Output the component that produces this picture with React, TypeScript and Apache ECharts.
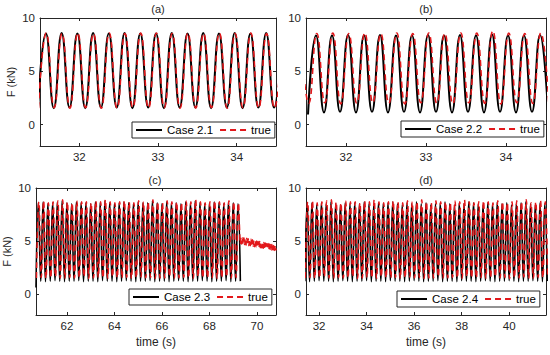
import React, { useEffect, useRef } from "react";
import * as echarts from "echarts";

// ---------- texts / ticks ----------
const panelTitles = ["(a)", "(b)", "(c)", "(d)"];
const caseNames = ["Case 2.1", "Case 2.2", "Case 2.3", "Case 2.4"];
const trueName = "true";
const yAxisName = "F (kN)";
const xAxisName = "time (s)";
const yTickValues = [0, 5, 10];
const yRange = [-2, 10];
const xTicksA = [32, 33, 34];
const xTicksB = [32, 33, 34];
const xTicksC = [62, 64, 66, 68, 70];
const xTicksD = [32, 34, 36, 38, 40];
const xRangeA = [31.5, 34.5];
const xRangeB = [31.5, 34.5];
const xRangeC = [60.7, 70.8];
const xRangeD = [31.45, 41.55];

// ---------- data: alternating extremes (troughs / peaks) of the force signals, kN ----------
const halfPeriod = 0.1; // s between a trough and the next peak

// (a)
const aCaseStart = 31.475;
const aCaseLows = [1.6, 1.55, 1.6, 1.55, 1.6, 1.6, 1.55, 1.6, 1.55, 1.6, 1.6, 1.55, 1.6, 1.55, 1.6, 1.6];
const aCaseHighs = [8.55, 8.6, 8.55, 8.6, 8.55, 8.6, 8.55, 8.55, 8.6, 8.55, 8.6, 8.55, 8.6, 8.55, 8.6, 8.55];
const aTrueStart = 31.48;
const aTrueLows = [1.55, 1.6, 1.55, 1.6, 1.55, 1.55, 1.6, 1.55, 1.6, 1.55, 1.55, 1.6, 1.55, 1.6, 1.55, 1.55];
const aTrueHighs = [8.6, 8.55, 8.6, 8.55, 8.6, 8.55, 8.6, 8.6, 8.55, 8.6, 8.55, 8.6, 8.55, 8.6, 8.55, 8.6];

// (b)
const bCaseStart = 31.525;
const bCaseLows = [0.95, 1.15, 1.2, 1.15, 1.2, 1.15, 1.2, 1.15, 1.2, 1.15, 1.2, 1.15, 1.2, 1.15, 1.2, 1.15];
const bCaseHighs = [8.35, 8.35, 8.4, 8.35, 8.4, 8.35, 8.35, 8.4, 8.35, 8.4, 8.35, 8.45, 8.35, 8.35, 8.4];
const bTrueStart = 31.435;
const bTrueHighs = [8.5, 8.55, 8.6, 8.55, 8.6, 8.55, 8.6, 8.55, 8.6, 8.55, 8.6, 8.6, 8.8, 8.6, 8.55, 8.6];
const bTrueLows = [2.0, 2.05, 1.95, 2.0, 2.05, 2.0, 1.95, 2.05, 2.0, 1.95, 2.05, 2.0, 1.95, 2.05, 2.0, 2.0];

// (c)
const cCaseStart = 60.7;
const cCaseLows = [
  0.6, 1.2, 1.15, 1.2, 1.25, 1.2, 1.15, 1.2, 1.2, 1.25,
  1.15, 1.2, 1.2, 1.15, 1.25, 1.2, 1.2, 1.15, 1.2, 1.25,
  1.2, 1.15, 1.2, 1.2, 1.25, 1.15, 1.2, 1.2, 1.15, 1.2,
  1.25, 1.2, 1.15, 1.2, 1.2, 1.25, 1.2, 1.15, 1.2, 1.2,
  1.25, 1.15, 1.2, 1.2,
];
const cCaseHighs = [
  8.6, 8.7, 8.5, 8.6, 8.7, 8.8, 8.6, 8.5, 8.7, 8.6,
  8.6, 8.5, 8.7, 8.6, 8.8, 8.6, 8.5, 8.6, 8.7, 8.6,
  8.5, 8.7, 8.6, 8.6, 8.8, 8.6, 8.5, 8.7, 8.6, 8.6,
  8.5, 8.7, 8.6, 8.8, 8.6, 8.5, 8.6, 8.7, 8.6, 8.5,
  8.7, 8.6, 8.5,
];
const cTrueStart = 60.72;
const cTrueLows = [
  1.5, 1.55, 1.45, 1.5, 1.6, 1.5, 1.45, 1.55, 1.5, 1.5,
  1.6, 1.45, 1.5, 1.55, 1.5, 1.45, 1.6, 1.5, 1.5, 1.55,
  1.45, 1.5, 1.6, 1.5, 1.55, 1.45, 1.5, 1.5, 1.6, 1.45,
  1.5, 1.55, 1.5, 1.45, 1.6, 1.5, 1.5, 1.55, 1.45, 1.5,
  1.6, 1.5, 1.55,
];
const cTrueHighs = [
  8.7, 8.8, 8.6, 8.7, 8.8, 8.9, 8.7, 8.6, 8.8, 8.7,
  8.7, 8.6, 8.8, 8.7, 8.9, 8.7, 8.6, 8.7, 8.8, 8.7,
  8.6, 8.8, 8.7, 8.7, 8.9, 8.7, 8.6, 8.8, 8.7, 8.7,
  8.6, 8.8, 8.7, 8.9, 8.7, 8.6, 8.7, 8.8, 8.7, 8.6,
  8.8, 8.7, 8.6,
];
// after the Case 2.3 record ends, the true force keeps a fast small ripple
const cTrueTailStart = 69.27;
const tailStep = 0.03;
const cTrueTail = [
  6.0, 4.7, 5.35, 4.7, 5.3, 4.65, 5.3, 4.65, 5.25, 4.6,
  5.25, 4.6, 5.2, 4.55, 5.15, 4.55, 5.15, 4.5, 5.1, 4.5,
  5.05, 4.45, 5.05, 4.45, 5.0, 4.4, 4.95, 4.4, 4.95, 4.35,
  4.9, 4.35, 4.85, 4.3, 4.85, 4.3, 4.8, 4.25, 4.75, 4.25,
  4.75, 4.2, 4.7, 4.2, 4.65, 4.15, 4.65, 4.15, 4.6, 4.1,
  4.6, 4.1,
];

// (d)
const dCaseStart = 31.4;
const dCaseLows = [
  1.2, 1.15, 1.2, 1.25, 1.2, 1.2, 1.15, 1.2, 1.25, 1.2,
  1.15, 1.2, 1.2, 1.25, 1.15, 1.2, 1.2, 1.15, 1.25, 1.2,
  1.2, 1.15, 1.2, 1.25, 1.2, 1.15, 1.2, 1.2, 1.25, 1.15,
  1.2, 1.2, 1.15, 1.25, 1.2, 1.2, 1.15, 1.2, 1.25, 1.2,
  1.15, 1.2, 1.2, 1.25, 1.2, 1.15, 1.2, 1.2, 1.25, 1.2,
  1.15, 1.2,
];
const dCaseHighs = [
  8.5, 8.6, 8.4, 8.6, 8.5, 8.7, 8.5, 8.4, 8.6, 8.5,
  8.6, 8.5, 8.7, 8.5, 8.4, 8.6, 8.5, 8.6, 8.7, 8.5,
  8.4, 8.6, 8.5, 8.7, 8.5, 8.6, 8.4, 8.5, 8.6, 8.7,
  8.5, 8.4, 8.6, 8.5, 8.7, 8.6, 8.5, 8.4, 8.6, 8.5,
  8.7, 8.5, 8.6, 8.4, 8.5, 8.6, 8.7, 8.5, 8.4, 8.6,
  8.5,
];
const dTrueStart = 31.42;
const dTrueLows = [
  1.5, 1.55, 1.45, 1.5, 1.6, 1.5, 1.45, 1.55, 1.5, 1.5,
  1.6, 1.45, 1.5, 1.55, 1.5, 1.45, 1.6, 1.5, 1.5, 1.55,
  1.45, 1.5, 1.6, 1.5, 1.55, 1.45, 1.5, 1.5, 1.6, 1.45,
  1.5, 1.55, 1.5, 1.45, 1.6, 1.5, 1.5, 1.55, 1.45, 1.5,
  1.6, 1.5, 1.55, 1.45, 1.5, 1.5, 1.6, 1.45, 1.5, 1.55,
  1.5, 1.45,
];
const dTrueHighs = [
  8.7, 8.8, 8.6, 8.7, 8.8, 8.9, 8.7, 8.6, 8.8, 8.7,
  8.7, 8.6, 8.8, 8.7, 8.9, 8.7, 8.6, 8.7, 8.8, 8.7,
  8.6, 8.8, 8.7, 8.7, 8.9, 8.7, 8.6, 8.8, 8.7, 8.7,
  8.6, 8.8, 8.7, 8.9, 8.7, 8.6, 8.7, 8.8, 8.7, 8.6,
  8.8, 8.7, 8.6, 8.7, 8.8, 8.7, 8.9, 8.6, 8.7, 8.8,
  8.7,
];

// ---------- table builders ----------
function extremes(t0: number, lows: number[], highs: number[], lowFirst: boolean) {
  const out: number[][] = [];
  const n = lows.length + highs.length;
  for (let i = 0; i < n; i++) {
    const isLow = (i % 2 === 0) === lowFirst;
    const k = Math.floor(i / 2);
    out.push([t0 + i * halfPeriod, isLow ? lows[k] : highs[k]]);
  }
  return out;
}
function seq(t0: number, step: number, vals: number[]) {
  return vals.map((v, i) => [t0 + i * step, v]);
}

const FONT = "'Liberation Sans', Arial, Helvetica, sans-serif";
const AX = "#262626";
const BLACK = "#000000";
const RED = "#e2181b";

export default function App() {
  const ref = useRef<HTMLDivElement>(null);

  useEffect(() => {
    if (!ref.current) return;
    const chart = echarts.init(ref.current, undefined, { renderer: "svg" });

    const grids = [
      { left: 40, top: 18, width: 236, height: 128 },
      { left: 306, top: 18, width: 240, height: 128 },
      { left: 36, top: 188, width: 240, height: 127 },
      { left: 306, top: 188, width: 240, height: 127 },
    ];
    const xRanges = [xRangeA, xRangeB, xRangeC, xRangeD];
    const xTicks = [xTicksA, xTicksB, xTicksC, xTicksD];

    const xAxes: any[] = [];
    const yAxes: any[] = [];
    grids.forEach((_, g) => {
      const base = {
        type: "value",
        gridIndex: g,
        min: xRanges[g][0],
        max: xRanges[g][1],
        splitLine: { show: false },
        axisLine: { show: true, onZero: false, lineStyle: { color: AX, width: 1 } },
        axisTick: { show: true, inside: true, length: 3, customValues: xTicks[g], lineStyle: { color: AX } },
      };
      xAxes.push({
        ...base,
        position: "bottom",
        axisLabel: { show: true, customValues: xTicks[g], margin: 5, fontSize: 11.5, color: AX, fontFamily: FONT },
        name: g >= 2 ? xAxisName : "",
        nameLocation: "middle",
        nameGap: 21,
        nameTextStyle: { fontSize: 12, color: AX, fontFamily: FONT },
      });
      xAxes.push({ ...base, position: "top", axisLabel: { show: false } });

      const ybase = {
        type: "value",
        gridIndex: g,
        min: yRange[0],
        max: yRange[1],
        splitLine: { show: false },
        axisLine: { show: true, onZero: false, lineStyle: { color: AX, width: 1 } },
        axisTick: { show: true, inside: true, length: 3, customValues: yTickValues, lineStyle: { color: AX } },
      };
      yAxes.push({
        ...ybase,
        position: "left",
        axisLabel: { show: true, customValues: yTickValues, margin: 5, fontSize: 11.5, color: AX, fontFamily: FONT },
        name: g % 2 === 0 ? yAxisName : "",
        nameLocation: "middle",
        nameRotate: 90,
        nameGap: 24,
        nameTextStyle: { fontSize: 11, color: AX, fontFamily: FONT },
      });
      yAxes.push({ ...ybase, position: "right", axisLabel: { show: false } });
    });

    const caseData = [
      extremes(aCaseStart, aCaseLows, aCaseHighs, true),
      extremes(bCaseStart, bCaseLows, bCaseHighs, true),
      extremes(cCaseStart, cCaseLows, cCaseHighs, true),
      extremes(dCaseStart, dCaseLows, dCaseHighs, true),
    ];
    const trueData = [
      extremes(aTrueStart, aTrueLows, aTrueHighs, true),
      extremes(bTrueStart, bTrueLows, bTrueHighs, false),
      extremes(cTrueStart, cTrueLows, cTrueHighs, true).concat(seq(cTrueTailStart, tailStep, cTrueTail)),
      extremes(dTrueStart, dTrueLows, dTrueHighs, true),
    ];

    const series: any[] = [];
    grids.forEach((_, g) => {
      const dense = g >= 2;
      series.push({
        type: "line",
        name: caseNames[g],
        xAxisIndex: 2 * g,
        yAxisIndex: 2 * g,
        data: caseData[g],
        smooth: true,
        symbol: "none",
        clip: true,
        lineStyle: { color: BLACK, width: dense ? 1.6 : 2 },
        itemStyle: { color: BLACK },
        z: 2,
      });
    });
    grids.forEach((_, g) => {
      const dense = g >= 2;
      series.push({
        type: "line",
        name: trueName,
        xAxisIndex: 2 * g,
        yAxisIndex: 2 * g,
        data: trueData[g],
        smooth: true,
        symbol: "none",
        clip: true,
        lineStyle: { color: RED, width: dense ? 1.5 : 1.6, type: [6, 4] },
        itemStyle: { color: RED },
        z: 3,
      });
    });

    const legendPos = [
      { left: 132, top: 122 },
      { left: 401, top: 121 },
      { left: 129, top: 289 },
      { left: 397, top: 291 },
    ];
    const legends = legendPos.map((p, g) => ({
      data: [caseNames[g], trueName],
      left: p.left,
      top: p.top,
      orient: "horizontal",
      itemWidth: 26,
      itemHeight: 2,
      itemGap: 6,
      padding: [1, 4, 1, 3],
      borderColor: AX,
      borderWidth: 1,
      borderRadius: 0,
      backgroundColor: "#ffffff",
      selectedMode: false,
      itemStyle: { opacity: 0 },
      textStyle: { fontSize: 11.5, color: "#000", fontFamily: FONT, lineHeight: 14 },
      z: 10,
    }));

    const titlePos = [
      [158, 9],
      [426, 9],
      [155, 180],
      [426, 180],
    ];
    const graphic = titlePos.map((p, g) => ({
      type: "text",
      x: p[0],
      y: p[1],
      style: {
        text: panelTitles[g],
        fontSize: 11,
        fontFamily: FONT,
        fill: AX,
        align: "center",
        verticalAlign: "middle",
      },
    }));

    chart.setOption({
      animation: false,
      backgroundColor: "#ffffff",
      textStyle: { fontFamily: FONT },
      grid: grids,
      xAxis: xAxes,
      yAxis: yAxes,
      legend: legends,
      series,
      graphic,
    });

    return () => chart.dispose();
  }, []);

  return (
    <div
      ref={ref}
      style={{ position: "absolute", left: 0, top: 0, width: 550, height: 355 }}
    />
  );
}
